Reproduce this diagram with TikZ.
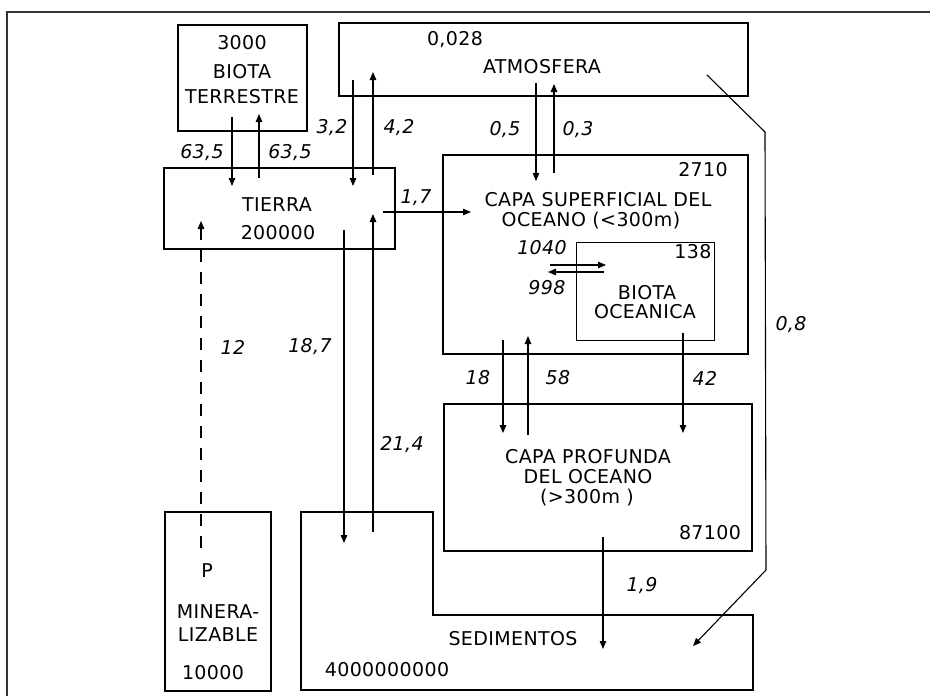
\documentclass[tikz,border=0pt]{standalone}
\usepackage{fontspec}
\setmainfont{DejaVu Sans}[LetterSpace=2]
\usetikzlibrary{arrows.meta}
\begin{document}
\begin{tikzpicture}[x=1pt,y=-1pt,
  box/.style={draw, line width=1.8pt, inner sep=0pt},
  thinbox/.style={draw, line width=1pt, inner sep=0pt},
  lbl/.style={inner sep=0pt, font=\fontsize{19}{22}\selectfont, align=center},
  num/.style={inner sep=0pt, font=\fontsize{19}{22}\selectfont\itshape},
  arr/.style={line width=1.1pt, -{Triangle[length=8pt,width=6.5pt]}},
  dasharr/.style={arr, dash pattern=on 12pt off 10pt}]
\useasboundingbox (0,0) rectangle (930,696);
% frame
\draw[line width=1.4pt, black!80] (7,696) -- (7,12) -- (930,12);
% boxes
\node[box, minimum width=129pt, minimum height=106pt] (bt) at (242.5,78) {};
\node[box, minimum width=409pt, minimum height=73pt] (atm) at (543.5,59.5) {};
\node[box, minimum width=231pt, minimum height=81pt] (tie) at (279.5,208.5) {};
\node[box, minimum width=305pt, minimum height=199pt] (sup) at (595.5,254.5) {};
\node[thinbox, minimum width=138pt, minimum height=98pt] (bo) at (645,291) {};
\node[box, minimum width=308pt, minimum height=147pt] (prof) at (598,477.5) {};
\node[box, minimum width=106pt, minimum height=179pt] (min) at (218,601.5) {};
\draw[box] (301,512) -- (433,512) -- (433,615) -- (753,615) -- (753,690) -- (301,690) -- cycle;
% box texts
\node[lbl] (t1) at (242,43) {3000};
\node[lbl] (t2) at (242,72) {BIOTA};
\node[lbl] (t3) at (242,97) {TERRESTRE};
\node[lbl] (t4) at (455,40) {0,028};
\node[lbl] (t5) at (542,67) {ATMOSFERA};
\node[lbl] (t6) at (277,205) {TIERRA};
\node[lbl] (t7) at (278,233) {200000};
\node[lbl] (t8) at (703,170) {2710};
\node[lbl] (t9) at (598,200) {CAPA SUPERFICIAL DEL};
\node[lbl] (t10) at (591,221) {OCEANO (<300m)};
\node[lbl] (t11) at (693,252) {138};
\node[lbl] (t12) at (647,293) {BIOTA};
\node[lbl] (t13) at (645,312) {OCEANICA};
\node[lbl] (t14) at (588,457) {CAPA PROFUNDA};
\node[lbl] (t15) at (588,477) {DEL OCEANO};
\node[lbl] (t16) at (587,498) {(>300m )};
\node[lbl] (t17) at (710,533) {87100};
\node[lbl] (t18) at (513,639) {SEDIMENTOS};
\node[lbl] (t19) at (387,670) {4000000000};
\node[lbl] (t20) at (207,571) {P};
\node[lbl] (t21) at (218,612) {MINERA-};
\node[lbl] (t22) at (218,635) {LIZABLE};
\node[lbl] (t23) at (213,673) {10000};
% flux labels
\node[num] (n1) at (202,153) {63,5};
\node[num] (n2) at (290,153) {63,5};
\node[num] (n3) at (332,128) {3,2};
\node[num] (n4) at (399,128) {4,2};
\node[num] (n5) at (416,198) {1,7};
\node[num] (n6) at (505,130) {0,5};
\node[num] (n7) at (578,130) {0,3};
\node[num] (n8) at (791,325) {0,8};
\node[num] (n9) at (233,347) {12};
\node[num] (n10) at (310,347) {18,7};
\node[num] (n11) at (402,445) {21,4};
\node[num] (n12) at (542,248) {1040};
\node[num] (n13) at (547,288) {998};
\node[num] (n14) at (478,378) {18};
\node[num] (n15) at (558,378) {58};
\node[num] (n16) at (705,378) {42};
\node[num] (n17) at (642,586) {1,9};
% arrow end points
\coordinate (a1) at (232,117); \coordinate (a2) at (232,186);
\coordinate (b1) at (259,178); \coordinate (b2) at (259,114);
\coordinate (c1) at (353,80);  \coordinate (c2) at (353,186);
\coordinate (d1) at (373,175); \coordinate (d2) at (373,72);
\coordinate (e1) at (383,212); \coordinate (e2) at (471,212);
\coordinate (f1) at (536,83);  \coordinate (f2) at (536,181);
\coordinate (g1) at (554,173); \coordinate (g2) at (554,84);
\coordinate (h1) at (707,75);  \coordinate (h2) at (765,132);
\coordinate (h3) at (766,570); \coordinate (h4) at (693,646);
\coordinate (i1) at (344,230); \coordinate (i2) at (344,543);
\coordinate (j1) at (373,532); \coordinate (j2) at (373,214);
\coordinate (k1) at (201,548); \coordinate (k2) at (201,221);
\coordinate (l1) at (550,265); \coordinate (l2) at (606,265);
\coordinate (l3) at (604,272); \coordinate (l4) at (548,272);
\coordinate (m1) at (503,340); \coordinate (m2) at (503,433);
\coordinate (o1) at (528,435); \coordinate (o2) at (528,336);
\coordinate (p1) at (683,333); \coordinate (p2) at (683,433);
\coordinate (q1) at (603,537); \coordinate (q2) at (603,649);
% arrows
\draw[arr] (a1) -- (a2);
\draw[arr] (b1) -- (b2);
\draw[arr] (c1) -- (c2);
\draw[arr] (d1) -- (d2);
\draw[arr] (e1) -- (e2);
\draw[arr] (f1) -- (f2);
\draw[arr] (g1) -- (g2);
\draw[arr] (h1) -- (h2) -- (h3) -- (h4);
\draw[arr] (i1) -- (i2);
\draw[arr] (j1) -- (j2);
\draw[dasharr] (k1) -- (k2);
\draw[arr] (l1) -- (l2);
\draw[arr] (l3) -- (l4);
\draw[arr] (m1) -- (m2);
\draw[arr] (o1) -- (o2);
\draw[arr] (p1) -- (p2);
\draw[arr] (q1) -- (q2);
\end{tikzpicture}
\end{document}
